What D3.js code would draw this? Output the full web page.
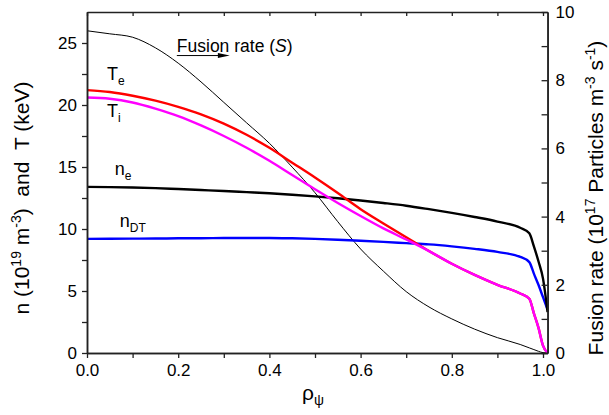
<!DOCTYPE html>
<html><head><meta charset="utf-8">
<script src="https://cdn.jsdelivr.net/npm/d3@7"></script>
<style>body{margin:0;background:#fff}svg{display:block;font-family:"Liberation Sans",Arial,sans-serif}</style>
</head><body><svg id="c" width="609" height="415"></svg>
<script>
const rho = [0,0.05,0.1,0.15,0.2,0.25,0.3,0.35,0.4,0.45,0.5,0.55,0.6,0.65,0.7,0.75,0.8,0.85,0.9,0.95,0.97,0.98,0.99,1.0,1.01];
const Te  = [21.2,21.05,20.75,20.35,19.85,19.25,18.5,17.6,16.55,15.35,14.15,12.9,11.6,10.45,9.34,8.22,7.2,6.3,5.5,4.8,4.38,3.2,2.05,0.6,0.0];
const Ti  = [20.6,20.5,20.2,19.7,19.1,18.35,17.5,16.55,15.5,14.35,13.2,12.1,11.05,10.05,9.15,8.22,7.2,6.3,5.5,4.8,4.38,3.2,2.05,0.6,0.0];
const ne  = [13.4,13.38,13.35,13.3,13.22,13.14,13.06,12.97,12.88,12.76,12.63,12.48,12.3,12.1,11.88,11.6,11.3,10.97,10.6,10.1,9.65,8.6,7.4,6.0,3.3];
const nDT = [9.2,9.21,9.22,9.23,9.25,9.26,9.27,9.28,9.28,9.25,9.2,9.13,9.05,8.96,8.86,8.76,8.6,8.4,8.15,7.75,7.33,6.4,5.5,4.5,3.5];
const S   = [9.45,9.36,9.26,8.95,8.5,7.95,7.35,6.75,6.15,5.45,4.7,3.85,3.05,2.4,1.8,1.35,1.0,0.7,0.45,0.25,0.15,0.1,0.05,0.01,0.0];
const xTicks = [0,0.2,0.4,0.6,0.8,1.0];
const xMinor = [0.1,0.3,0.5,0.7,0.9];
const yLTicks = [0,5,10,15,20,25];
const yLMinor = [2.5,7.5,12.5,17.5,22.5];
const yRTicks = [0,2,4,6,8,10];
const yRMinor = [1,3,5,7,9];

const svg = d3.select("#c");
const x = d3.scaleLinear().domain([0,1.01]).range([87,87+456*1.01]);
const yL = d3.scaleLinear().domain([0,27.5]).range([353,12]);
const yR = d3.scaleLinear().domain([0,10]).range([353,12]);

function line(ys, ysc){
  return d3.line().x((d,i)=>x(rho[i])).y(d=>ysc(d)).curve(d3.curveMonotoneX)(ys);
}
const g = svg.append("g");
g.append("path").attr("d", line(S,yR)).attr("fill","none").attr("stroke","#000").attr("stroke-width",1);
g.append("path").attr("d", line(nDT,yL)).attr("fill","none").attr("stroke","#0000ff").attr("stroke-width",2.4);
g.append("path").attr("d", line(ne,yL)).attr("fill","none").attr("stroke","#000").attr("stroke-width",2.4);
g.append("path").attr("d", line(Te,yL)).attr("fill","none").attr("stroke","#ff0000").attr("stroke-width",2.4);
g.append("path").attr("d", line(Ti,yL)).attr("fill","none").attr("stroke","#ff00ff").attr("stroke-width",2.4);

const fs = "17px";
function styleAxis(sel){
  sel.selectAll("path.domain").attr("stroke","#222").attr("stroke-width",1.5);
  sel.selectAll(".tick line").attr("stroke","#222").attr("stroke-width",1.3);
  sel.selectAll("text").attr("font-size",fs).attr("font-family","Liberation Sans, Arial, sans-serif").attr("fill","#000");
}
svg.append("g").attr("transform","translate(0,353)")
  .call(d3.axisBottom(x).tickValues(xTicks).tickFormat(d3.format(".1f")).tickSizeInner(5).tickSizeOuter(0).tickPadding(6)).call(styleAxis);
svg.append("g").attr("transform","translate(0,353)")
  .call(d3.axisBottom(x).tickValues(xMinor).tickFormat("").tickSizeInner(5).tickSizeOuter(0)).call(styleAxis);
svg.append("g").attr("transform","translate(0,12)")
  .call(d3.axisBottom(x).tickValues(xTicks.concat(xMinor)).tickFormat("").tickSizeInner(4).tickSizeOuter(0)).call(styleAxis);
svg.append("g").attr("transform","translate(87,0)")
  .call(d3.axisLeft(yL).tickValues(yLTicks).tickSizeInner(5).tickSizeOuter(0).tickPadding(5)).call(styleAxis);
svg.append("g").attr("transform","translate(87,0)")
  .call(d3.axisLeft(yL).tickValues(yLMinor).tickFormat("").tickSizeInner(5).tickSizeOuter(0)).call(styleAxis);
const rx = x.range()[1];
const ra = svg.append("g").attr("transform",`translate(${rx},0)`)
  .call(d3.axisLeft(yR).tickValues(yRTicks).tickSizeInner(6).tickSizeOuter(0));
ra.selectAll(".tick text").attr("x",8).attr("text-anchor","start");
styleAxis(ra);
svg.append("g").attr("transform",`translate(${rx},0)`)
  .call(d3.axisLeft(yR).tickValues(yRMinor).tickFormat("").tickSizeInner(6).tickSizeOuter(0)).call(styleAxis);

function lab(px, py, main, sub){
  const t = svg.append("text").attr("x",px).attr("y",py).attr("font-size","18px");
  t.append("tspan").text(main);
  t.append("tspan").attr("dy",5).attr("font-size","12px").text(sub);
}
lab(x(0.044), yL(22.0), "T", "e");
lab(x(0.044), yL(19.0), "T", "i");
lab(x(0.061), yL(14.35), "n", "e");
lab(x(0.072), yL(10.16), "n", "DT");
const ft = svg.append("text").attr("x",x(0.197)).attr("y",yL(24.27)).attr("font-size","17.5px");
ft.append("tspan").text("Fusion rate (");
ft.append("tspan").attr("font-style","italic").text("S");
ft.append("tspan").text(")");
const ay = yL(24.27)+3.5;
svg.append("line").attr("x1",x(0.197)).attr("x2",x(0.29)).attr("y1",ay).attr("y2",ay).attr("stroke","#000").attr("stroke-width",1);
svg.append("path").attr("d",`M${x(0.287)},${ay-2.5}L${x(0.313)},${ay}L${x(0.287)},${ay+2.5}Z`).attr("fill","#000");

const xl = svg.append("text").attr("x",313).attr("y",400).attr("text-anchor","middle").attr("font-size","21px");
xl.append("tspan").text("ρ");
xl.append("tspan").attr("dy",5).attr("font-size","14px").text("ψ");

const yl = svg.append("text").attr("transform","translate(29,198) rotate(-90)").attr("text-anchor","middle").attr("font-size","21px");
yl.append("tspan").text("n (10");
yl.append("tspan").attr("dy",-8).attr("font-size","14px").text("19");
yl.append("tspan").attr("dy",8).text(" m");
yl.append("tspan").attr("dy",-8).attr("font-size","14px").text("-3");
yl.append("tspan").attr("dy",8).text(")\u00a0\u00a0and\u00a0\u00a0T (keV)");

const yr = svg.append("text").attr("transform","translate(603,198) rotate(-90)").attr("text-anchor","middle").attr("font-size","21px");
yr.append("tspan").text("Fusion rate (10");
yr.append("tspan").attr("dy",-8).attr("font-size","14px").text("17");
yr.append("tspan").attr("dy",8).text(" Particles m");
yr.append("tspan").attr("dy",-8).attr("font-size","14px").text("-3");
yr.append("tspan").attr("dy",8).text(" s");
yr.append("tspan").attr("dy",-8).attr("font-size","14px").text("-1");
yr.append("tspan").attr("dy",8).text(")");
</script></body></html>
